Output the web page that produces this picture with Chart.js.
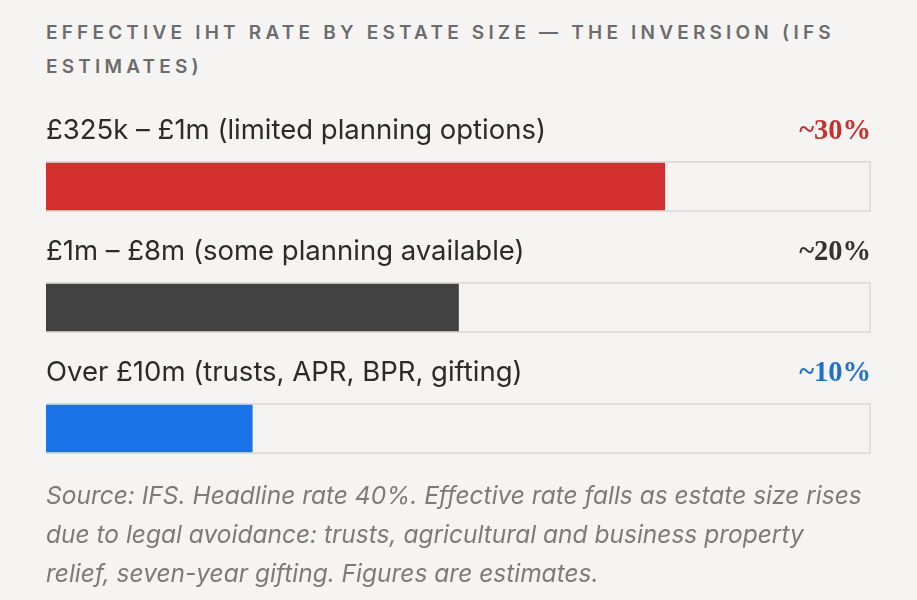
<!DOCTYPE html>
<html>
<head>
<meta charset="utf-8">
<script src="https://cdn.jsdelivr.net/npm/chart.js@4.4.0/dist/chart.umd.min.js"></script>
<style>
  html, body { margin: 0; padding: 0; background: #f5f4f2; }
  body { width: 917px; height: 600px; position: relative; overflow: hidden; }
  #chart { position: absolute; left: 0; top: 0; }
  .title {
    position: absolute; left: 46px; top: 16px; width: 880px;
    font-family: Inter, "Noto Sans", sans-serif; font-weight: 600;
    font-size: 19px; letter-spacing: 4.2px; line-height: 34px; color: #6c6c6c;
  }
  .note {
    position: absolute; left: 46px; top: 476px; width: 880px;
    font-family: Inter, "Noto Sans", sans-serif; font-style: italic;
    font-size: 24.5px; line-height: 39px; color: #7b7b7b;
  }
</style>
</head>
<body>
<div class="title">EFFECTIVE IHT RATE BY ESTATE SIZE — THE INVERSION (IFS<br>ESTIMATES)</div>
<canvas id="chart" width="917" height="600"></canvas>
<div class="note">Source: IFS. Headline rate 40%. Effective rate falls as estate size rises<br>due to legal avoidance: trusts, agricultural and business property<br>relief, seven-year gifting. Figures are estimates.</div>
<script>
// data
const categories = [
  '£325k – £1m (limited planning options)',
  '£1m – £8m (some planning available)',
  'Over £10m (trusts, APR, BPR, gifting)'
];
const rates = [30, 20, 10];
const rateLabels = ['~30%', '~20%', '~10%'];
const headlineRate = 40;

const barColors = ['#d32f2f', '#424242', '#1a73e8'];
const labelColors = ['#c5312f', '#333333', '#1f6fcf'];

// labels above each bar: category on the left, rate on the right
const rowLabels = {
  id: 'rowLabels',
  afterDatasetsDraw(chart) {
    const ctx = chart.ctx;
    const area = chart.chartArea;
    const meta = chart.getDatasetMeta(1);
    ctx.save();
    ctx.textBaseline = 'alphabetic';
    meta.data.forEach((bar, i) => {
      const top = bar.y - bar.height / 2;
      const baseline = top - 22;
      ctx.font = '400 27.5px Inter, "Noto Sans", sans-serif';
      ctx.fillStyle = '#2b2b2b';
      ctx.textAlign = 'left';
      ctx.fillText(categories[i], area.left, baseline);
      ctx.font = '700 28.5px "Liberation Serif", serif';
      ctx.fillStyle = labelColors[i];
      ctx.textAlign = 'right';
      ctx.fillText(rateLabels[i], area.right, baseline);
    });
    ctx.restore();
  }
};

new Chart(document.getElementById('chart'), {
  type: 'bar',
  data: {
    labels: categories,
    datasets: [
      {
        label: 'Rate',
        data: rates,
        backgroundColor: barColors,
        borderWidth: 0,
        barThickness: 47,
        grouped: false,
        order: 0
      },
      {
        label: 'Headline rate',
        data: categories.map(() => headlineRate),
        backgroundColor: '#f4f3f1',
        borderColor: '#dddcda',
        borderWidth: 2,
        barThickness: 51,
        grouped: false,
        order: 1
      }
    ]
  },
  options: {
    indexAxis: 'y',
    responsive: false,
    animation: false,
    layout: { padding: { left: 46, right: 46, top: 126, bottom: 111 } },
    scales: {
      x: { display: false, min: 0, max: headlineRate },
      y: { display: false }
    },
    plugins: {
      legend: { display: false },
      tooltip: { enabled: false }
    }
  },
  plugins: [rowLabels]
});
</script>
</body>
</html>
